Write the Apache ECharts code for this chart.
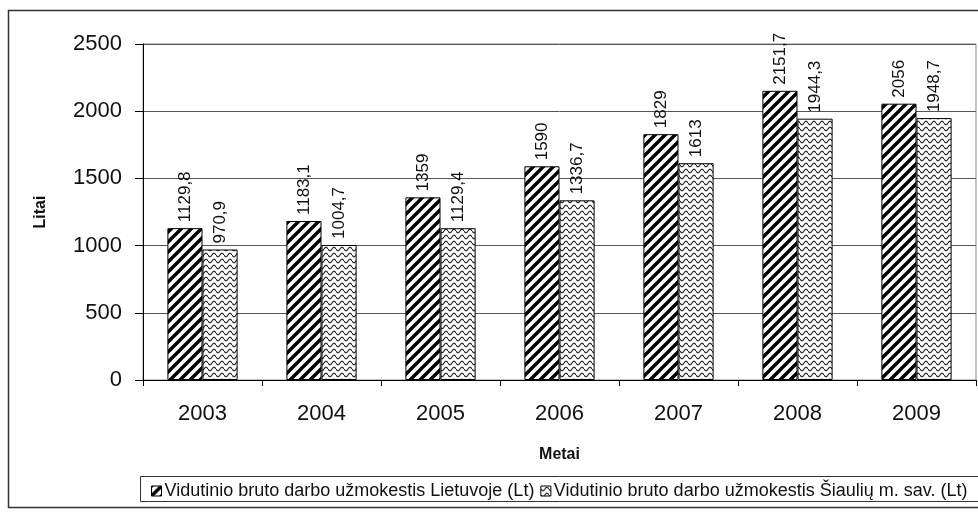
<!DOCTYPE html>
<html>
<head>
<meta charset="utf-8">
<script src="https://cdn.jsdelivr.net/npm/echarts@6/dist/echarts.min.js"></script>
<style>html,body{margin:0;padding:0;background:#fff}#c{width:978px;height:525px}</style>
</head>
<body>
<div id="c"></div>
<script>
var categories = ['2003','2004','2005','2006','2007','2008','2009'];
var seriesNames = ['Vidutinio bruto darbo užmokestis Lietuvoje (Lt)', 'Vidutinio bruto darbo užmokestis Šiaulių m. sav. (Lt)'];
var lietuva = [1129.8, 1183.1, 1359, 1590, 1829, 2151.7, 2056];
var siauliai = [970.9, 1004.7, 1129.4, 1336.7, 1613, 1944.3, 1948.7];
var yTicks = [0, 500, 1000, 1500, 2000, 2500];

function hatch() {
  var s = 10, c = document.createElement('canvas');
  c.width = s; c.height = s;
  var g = c.getContext('2d');
  g.fillStyle = '#fff'; g.fillRect(0,0,s,s);
  g.strokeStyle = '#000'; g.lineWidth = 3.4;
  g.beginPath();
  g.moveTo(-2, s+2); g.lineTo(s+2, -2);
  g.moveTo(-2, 2); g.lineTo(2, -2);
  g.moveTo(s-2, s+2); g.lineTo(s+2, s-2);
  g.stroke();
  return c;
}
function wave() {
  var w = 8, h = 6, c = document.createElement('canvas');
  c.width = w; c.height = h;
  var g = c.getContext('2d');
  g.fillStyle = '#fff'; g.fillRect(0,0,w,h);
  g.strokeStyle = '#222'; g.lineWidth = 1.1;
  g.beginPath();
  for (var x = 0; x <= w; x += 0.5) {
    var y = 3 + 1.8 * Math.sin(x / w * 2 * Math.PI);
    if (x === 0) g.moveTo(x, y); else g.lineTo(x, y);
  }
  g.stroke();
  return c;
}
var p1 = {image: hatch(), repeat: 'repeat'};
var p2 = {image: wave(), repeat: 'repeat'};

function fmt(p){ return String(p.value).replace('.', ','); }
var font = 'Liberation Sans, Arial, sans-serif';

var chart = echarts.init(document.getElementById('c'));
chart.setOption({
  animation: false,
  textStyle: {fontFamily: font},
  grid: {left: 143, right: 2, top: 44, bottom: 145, show: true, borderColor: '#888', borderWidth: 1},
  graphic: [
    {type: 'rect', shape: {x: 8.5, y: 10.5, width: 1000, height: 497}, style: {fill: 'none', stroke: '#333', lineWidth: 1.5}, z: -1},
    {type: 'rect', shape: {x: 140.5, y: 476.5, width: 900, height: 25}, style: {fill: 'none', stroke: '#333', lineWidth: 1}, z: -1}
  ],
  legend: {
    left: 146, top: 477, itemWidth: 10, itemHeight: 10, itemGap: 6, icon: 'rect',
    textStyle: {fontSize: 18, color: '#111', fontFamily: font, padding: [0,0,0,-2]},
    data: [
      {name: seriesNames[0], itemStyle: {color: p1, borderColor: '#000', borderWidth: 1}},
      {name: seriesNames[1], itemStyle: {color: p2, borderColor: '#000', borderWidth: 1}}
    ]
  },
  xAxis: {
    type: 'category', data: categories,
    name: 'Metai', nameLocation: 'middle', nameGap: 67,
    nameTextStyle: {fontSize: 16, fontWeight: 'bold', color: '#111'},
    axisLine: {lineStyle: {color: '#000', width: 1}},
    axisTick: {show: true, length: 6, lineStyle: {color: '#000'}},
    axisLabel: {fontSize: 22, color: '#111', margin: 23}
  },
  yAxis: {
    type: 'value', min: 0, max: 2500, interval: 500,
    name: 'Litai', nameLocation: 'middle', nameGap: 94,
    nameTextStyle: {fontSize: 16, fontWeight: 'bold', color: '#111'},
    axisLine: {show: true, lineStyle: {color: '#000', width: 1}},
    axisTick: {show: true, length: 8, lineStyle: {color: '#000'}},
    axisLabel: {fontSize: 22, color: '#111', margin: 21, formatter: function(v){ return yTicks.indexOf(v) >= 0 ? String(v) : ''; }},
    splitLine: {lineStyle: {color: '#555', width: 1}}
  },
  series: [
    {name: seriesNames[0], type: 'bar', data: lietuva, barGap: '0%', barCategoryGap: '41%',
     itemStyle: {color: p1, borderColor: '#000', borderWidth: 1},
     label: {show: true, position: 'top', rotate: 90, align: 'left', verticalAlign: 'middle', distance: 6, fontSize: 17, color: '#111', formatter: fmt}},
    {name: seriesNames[1], type: 'bar', data: siauliai, barGap: '0%', barCategoryGap: '41%',
     itemStyle: {color: p2, borderColor: '#000', borderWidth: 1},
     label: {show: true, position: 'top', rotate: 90, align: 'left', verticalAlign: 'middle', distance: 6, fontSize: 17, color: '#111', formatter: fmt}}
  ]
});
</script>
</body>
</html>
